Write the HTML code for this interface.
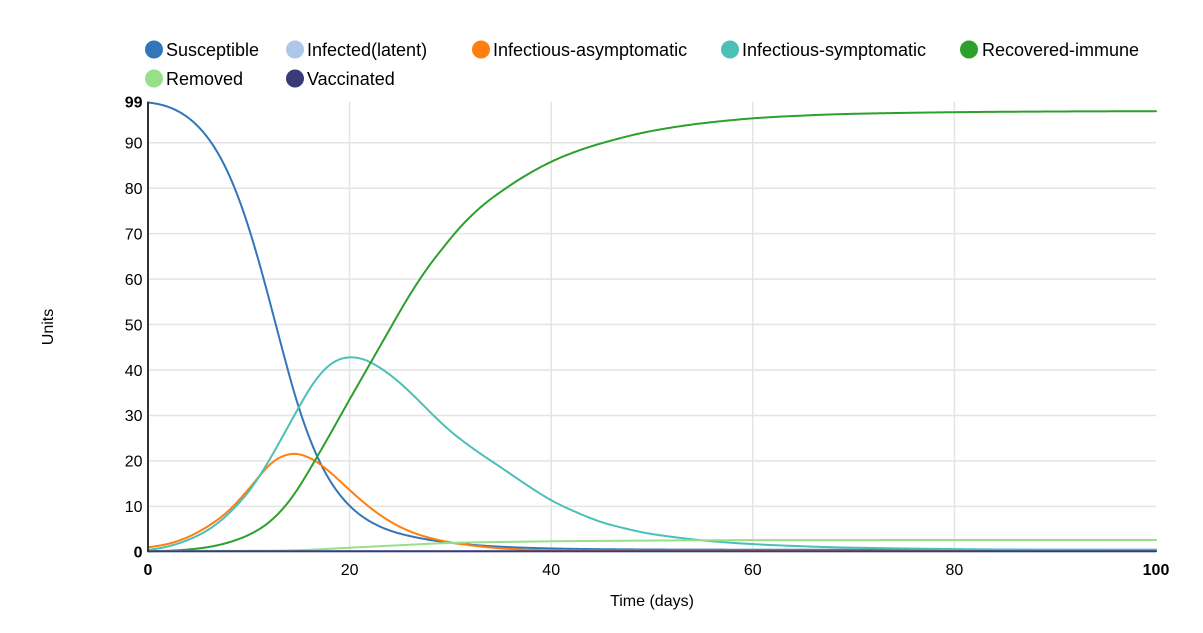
<!DOCTYPE html>
<html>
<head>
<meta charset="utf-8">
<style>
  html, body { margin: 0; padding: 0; background: #fff; }
  svg { display: block; font-family: "Liberation Sans", Arial, sans-serif; }
  .grid line { stroke: #e4e4e4; stroke-width: 1.5; }
  .tick { font-size: 16px; fill: #000; }
  .leg { font-size: 18px; fill: #000; }
  .series { fill: none; stroke-width: 2; stroke-linejoin: round; stroke-linecap: round; }
</style>
</head>
<body>
<svg id="chart" width="1203" height="633" viewBox="0 0 1203 633" xmlns="http://www.w3.org/2000/svg">
  <rect x="0" y="0" width="1203" height="633" fill="#fff"/>

  <!-- Legend -->
  <g>
    <circle cx="154" cy="49.5" r="9" fill="#3276b9"/>
    <text class="leg" x="166" y="56">Susceptible</text>
    <circle cx="295" cy="49.5" r="9" fill="#aec7e8"/>
    <text class="leg" x="307" y="56">Infected(latent)</text>
    <circle cx="481" cy="49.5" r="9" fill="#ff7f0e"/>
    <text class="leg" x="493" y="56">Infectious-asymptomatic</text>
    <circle cx="730" cy="49.5" r="9" fill="#4cbfb7"/>
    <text class="leg" x="742" y="56">Infectious-symptomatic</text>
    <circle cx="969" cy="49.5" r="9" fill="#2ca02c"/>
    <text class="leg" x="982" y="56">Recovered-immune</text>
    <circle cx="154" cy="78.5" r="9" fill="#98df8a"/>
    <text class="leg" x="166" y="85">Removed</text>
    <circle cx="295" cy="78.5" r="9" fill="#393b79"/>
    <text class="leg" x="307" y="85">Vaccinated</text>
  </g>

  <!-- Grid -->
  <g class="grid">
    <line x1="148" x2="1156" y1="506.35" y2="506.35"/>
    <line x1="148" x2="1156" y1="460.9" y2="460.9"/>
    <line x1="148" x2="1156" y1="415.45" y2="415.45"/>
    <line x1="148" x2="1156" y1="370" y2="370"/>
    <line x1="148" x2="1156" y1="324.55" y2="324.55"/>
    <line x1="148" x2="1156" y1="279.1" y2="279.1"/>
    <line x1="148" x2="1156" y1="233.65" y2="233.65"/>
    <line x1="148" x2="1156" y1="188.2" y2="188.2"/>
    <line x1="148" x2="1156" y1="142.75" y2="142.75"/>
    <line x1="349.6" x2="349.6" y1="101.8" y2="551.8"/>
    <line x1="551.2" x2="551.2" y1="101.8" y2="551.8"/>
    <line x1="752.8" x2="752.8" y1="101.8" y2="551.8"/>
    <line x1="954.4" x2="954.4" y1="101.8" y2="551.8"/>
  </g>

  <!-- Y tick labels -->
  <g class="tick" text-anchor="end">
    <text x="142.5" y="107.6" font-weight="bold">99</text>
    <text x="142.5" y="148.5">90</text>
    <text x="142.5" y="194">80</text>
    <text x="142.5" y="239.5">70</text>
    <text x="142.5" y="284.9">60</text>
    <text x="142.5" y="330.3">50</text>
    <text x="142.5" y="375.8">40</text>
    <text x="142.5" y="421.2">30</text>
    <text x="142.5" y="466.7">20</text>
    <text x="142.5" y="512.1">10</text>
    <text x="142.5" y="557.6" font-weight="bold">0</text>
  </g>

  <!-- X tick labels -->
  <g class="tick" text-anchor="middle">
    <text x="148" y="575" font-weight="bold">0</text>
    <text x="349.6" y="575">20</text>
    <text x="551.2" y="575">40</text>
    <text x="752.8" y="575">60</text>
    <text x="954.4" y="575">80</text>
    <text x="1156" y="575" font-weight="bold">100</text>
  </g>

  <!-- Axis titles -->
  <text class="tick" x="652" y="606" text-anchor="middle">Time (days)</text>
  <text class="tick" transform="translate(53,327) rotate(-90)" text-anchor="middle">Units</text>

  <!-- Series -->
  <g id="series"></g>

  <!-- Y axis line -->
  <line x1="148" x2="148" y1="101.8" y2="552" stroke="#333" stroke-width="2"/>
</svg>

<script>
(function(){
  var NS = "http://www.w3.org/2000/svg";
  var X0 = 148, X1 = 1156, PXT = 10.08, Y0 = 551.8, PXV = 4.545;
  function dense(pts){
    var out = [pts[0].slice()];
    for (var i = 0; i < pts.length - 1; i++) {
      var p0 = pts[i-1] || pts[i], p1 = pts[i], p2 = pts[i+1], p3 = pts[i+2] || pts[i+1];
      var c1x = p1[0] + (p2[0]-p0[0])/6, c1y = p1[1] + (p2[1]-p0[1])/6;
      var c2x = p2[0] - (p3[0]-p1[0])/6, c2y = p2[1] - (p3[1]-p1[1])/6;
      for (var k = 1; k <= 40; k++) {
        var s = k/40, u = 1-s;
        var x = u*u*u*p1[0] + 3*u*u*s*c1x + 3*u*s*s*c2x + s*s*s*p2[0];
        var y = u*u*u*p1[1] + 3*u*u*s*c1y + 3*u*s*s*c2y + s*s*s*p2[1];
        out.push([x,y]);
      }
    }
    return out;
  }
  function resample(d){
    var ys = [], j = 0;
    for (var x = X0; x <= X1; x++) {
      while (j < d.length - 2 && d[j+1][0] < x) j++;
      var a = d[j], b = d[j+1];
      var t = (b[0] === a[0]) ? 0 : (x - a[0]) / (b[0] - a[0]);
      t = Math.max(0, Math.min(1, t));
      ys.push(a[1] + (b[1]-a[1])*t);
    }
    return ys;
  }
  function smooth(ys, sigma){
    var n = ys.length, r = Math.ceil(sigma*3), w = [], out = [];
    for (var k = -r; k <= r; k++) w.push(Math.exp(-k*k/(2*sigma*sigma)));
    function at(i){
      if (i < 0) return 2*ys[0] - ys[Math.min(n-1,-i)];
      if (i >= n) return 2*ys[n-1] - ys[Math.max(0, 2*(n-1)-i)];
      return ys[i];
    }
    for (var i = 0; i < n; i++) {
      var s = 0, ws = 0;
      for (var k = -r; k <= r; k++) { s += w[k+r]*at(i+k); ws += w[k+r]; }
      out.push(s/ws);
    }
    return out;
  }
  function toPath(ys){
    var d = "M" + X0 + "," + ys[0].toFixed(2);
    for (var i = 1; i < ys.length; i++) d += " L" + (X0+i) + "," + ys[i].toFixed(2);
    return d;
  }
  function fromPts(pts, sigma){ return toPath(smooth(resample(dense(pts)), sigma)); }

  // Susceptible: analytic fit
  function Sval(t){
    var g;
    if (t <= 14) g = -0.235 + 0.34*(t-12) - 2.12*Math.exp(-t/2.2);
    else {
      var x = t - 14;
      if (x <= 11.5) g = 0.445 + 0.34*x - 0.0074*x*x;
      else g = 3.376 + 0.17*(x - 11.5);
    }
    return 0.45 + 98.55/(1+Math.exp(g));
  }
  var Sys = [];
  for (var x = X0; x <= X1; x++) Sys.push(Y0 - Sval((x-X0)/PXT)*PXV);

  var A = [[148,547.3],[168.2,544],[188.3,537],[208.5,526],[228.6,511],[248.8,489],[259,476.5],[269,465],[279,457.5],[293,453.3],[304,455.5],[314,460],[329.4,471.5],[349.6,490],[369.8,507.5],[390,521.5],[410,531.5],[430,538],[450,542.3],[480.6,546.5],[511,549],[551,550.2],[652,550.7],[1156,550.8]];
  var I = [[148,550],[168,546.7],[188,540],[208.5,530],[228.6,514],[248.8,492],[259,477],[269,461],[279,443],[289,425],[299,407],[309,389],[319,375],[329,364.5],[339.5,358.5],[349.6,356.7],[359.7,357.8],[369.8,361.5],[390,374.5],[410,392],[430,412],[450,431],[475.6,450.4],[500.8,467.3],[526,484.5],[551.2,500.4],[576.4,512.3],[601.6,522.3],[626.8,528.8],[652,534.1],[702.4,540.4],[752.8,544.1],[803.2,546.3],[853.6,547.7],[954.4,549.1],[1055,549.8],[1156,550]];
  var R = [[148,551.3],[168,550.8],[188,549.6],[208,547.2],[228,542.8],[248,535.5],[264,526.5],[277,515.5],[289,502],[297,490.5],[303,481],[317,457],[330,434.5],[345,407.5],[360,381.3],[372,360.3],[382,342.8],[393,323.5],[408,297.5],[428,267],[448,241.7],[460,227],[480,207.5],[494,196.5],[507,187.5],[523,177],[551,161.7],[580,150],[607,141.7],[640,133.3],[673,127.3],[707,122.7],[753,118.3],[800,115.7],[854,113.8],[954,112.2],[1055,111.5],[1156,111.2]];
  var M = [[148,551],[250,550.8],[300,550.2],[348,547.8],[400,545.2],[448,543],[500,542],[551,541.3],[600,540.9],[700,540.3],[800,540.1],[1156,540]];

  var g = document.getElementById("series");
  function add(d, color, w){
    var p = document.createElementNS(NS, "path");
    p.setAttribute("d", d);
    p.setAttribute("class", "series");
    p.setAttribute("stroke", color);
    p.setAttribute("stroke-width", w);
    g.appendChild(p);
  }
  add(toPath(smooth(Sys, 2)), "#3276b9", 2);
  add("M148,551.3 L1156,551.3", "#aec7e8", 2);
  add(fromPts(A, 5), "#ff7f0e", 2);
  add(fromPts(I, 7), "#4cbfb7", 2);
  add(fromPts(R, 7), "#2ca02c", 2);
  add(fromPts(M, 8), "#98df8a", 2.2);
  add("M148,551.3 L1156,551.3", "#393b79", 3);
})();
</script>
</body>
</html>
